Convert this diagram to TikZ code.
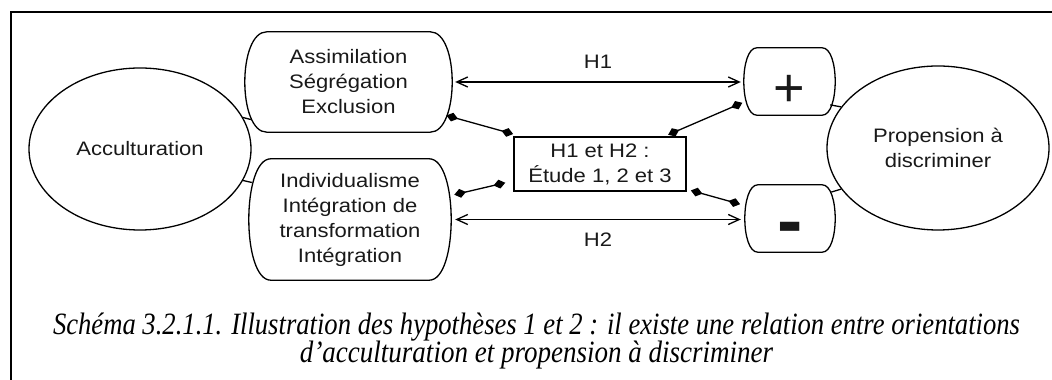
\documentclass[tikz,border=0pt]{standalone}
\usepackage{fontspec}
\usepackage{graphicx}
\usetikzlibrary{arrows.meta,shapes.geometric,calc}
\newfontfamily\labfont{Liberation Sans}[FakeStretch=1.13]
\newfontfamily\signfont{Liberation Sans}
\newfontfamily\capfont{Liberation Serif}
\tikzset{
  lab/.style={font=\labfont\fontsize{19.5}{25}\selectfont, align=center, text=black!90},
  rbox/.style={lab, inner sep=0pt},
  boxline/.style={line width=1.3pt},
  oval/.style={lab, draw, ellipse, line width=1.3pt, inner sep=0pt},
  sqbox/.style={lab, draw, line width=1.3pt, inner sep=0pt},
  harrow/.style={line width=1.3pt, {Straight Barb[length=11pt,width=10pt]}-{Straight Barb[length=11pt,width=10pt]}},
  dlink/.style={line width=1.3pt, {Diamond[length=12pt,width=9pt]}-{Diamond[length=12pt,width=9pt]}},
  tie/.style={line width=1.3pt},
  frame/.style={line width=2.6pt},
  captxt/.style={anchor=base, inner sep=0pt}
}
% outline with flat top/bottom and bulging sides around a node
\newcommand\bulgebox[2]{%
  \draw[boxline] ($(#1.north west)+(#2,0)$) -- ($(#1.north east)+(-#2,0)$)
    .. controls ($(#1.north east)+(#2/3,0)$) and ($(#1.south east)+(#2/3,0)$) .. ($(#1.south east)+(-#2,0)$)
    -- ($(#1.south west)+(#2,0)$)
    .. controls ($(#1.south west)+(-#2/3,0)$) and ($(#1.north west)+(-#2/3,0)$) .. cycle;}
\begin{document}
\begin{tikzpicture}[x=1pt,y=1pt]
\useasboundingbox (0,0) rectangle (1052,380);
% frame (only top and left edges visible)
\draw[frame] (11,-10) -- (11,368) -- (1062,368);

% nodes
\node[oval, minimum width=222pt, minimum height=162pt] (acc) at (140,231) {Acculturation};
\node[oval, minimum width=222pt, minimum height=164pt] (prop) at (938,232) {Propension à\\discriminer};
\node[rbox, minimum width=207pt, minimum height=100pt] (A) at (348.5,298) {Assimilation\\Ségrégation\\Exclusion};
\node[rbox, minimum width=202pt, minimum height=121pt] (B) at (350,160.5) {Individualisme\\Intégration de\\transformation\\Intégration};
\node[rbox, minimum width=91pt, minimum height=67pt,
      font=\signfont\fontsize{54}{54}\selectfont] (plus) at (789.5,298.5) {\raisebox{-25pt}[0pt][0pt]{+}};
\node[rbox, minimum width=90pt, minimum height=67pt,
      font=\signfont\bfseries\fontsize{76}{76}\selectfont] (minus) at (790,161.5) {\raisebox{-28pt}[0pt][0pt]{-}};
\node[sqbox, minimum width=172pt, minimum height=54pt] (C) at (600,216) {H1 et H2 :\\Étude 1, 2 et 3};
\node[lab] (h1) at (598,318) {H1};
\node[lab] (h2) at (598,140) {H2};

\bulgebox{A}{22}
\bulgebox{B}{22}
\bulgebox{plus}{13}
\bulgebox{minus}{13}

% double arrows
\draw[harrow] ([xshift=3pt]A.east) -- ([xshift=-3pt]A.east -| plus.west);
\draw[harrow] ([xshift=4pt]B.east) -- ([xshift=-4pt]B.east -| minus.west);

% short ties to ellipses
\draw[tie] (acc.17) -- ($(acc.17 -| A.west)+(6,-2)$);
\draw[tie] (acc.-17) -- ($(acc.-17 -| B.west)+(3,-2)$);
\draw[tie] (prop.157) -- ($(prop.157 -| plus.east)+(-5,2)$);
\draw[tie] (prop.203) -- ($(prop.203 -| minus.east)+(-4,-3)$);

% diamond links
\draw[dlink] ($(A.south east)+(-5.8,16.7)$) -- ($(C.north west)+(-0.2,2.3)$);
\draw[dlink] ($(B.north east)+(3.1,-35.9)$) -- ($(C.south west)+(-8.1,8.9)$);
\draw[dlink] ($(C.north east)+(-18.5,1.6)$) -- ($(plus.south west)+(-1.5,12.4)$);
\draw[dlink] ($(C.south east)+(4.2,1.2)$) -- ($(minus.west)+(-4.7,14.3)$);

% caption
\node[captxt] (cap1) at (536.5,45) {\resizebox{967pt}{\height}{\capfont\itshape\fontsize{31}{27}\selectfont Schéma 3.2.1.1. Illustration des hypothèses 1 et 2 : il existe une relation entre orientations}};
\node[captxt] (cap2) at (536.5,17) {\resizebox{473pt}{\height}{\capfont\itshape\fontsize{31}{27}\selectfont d’acculturation et propension à discriminer}};
\end{tikzpicture}
\end{document}
